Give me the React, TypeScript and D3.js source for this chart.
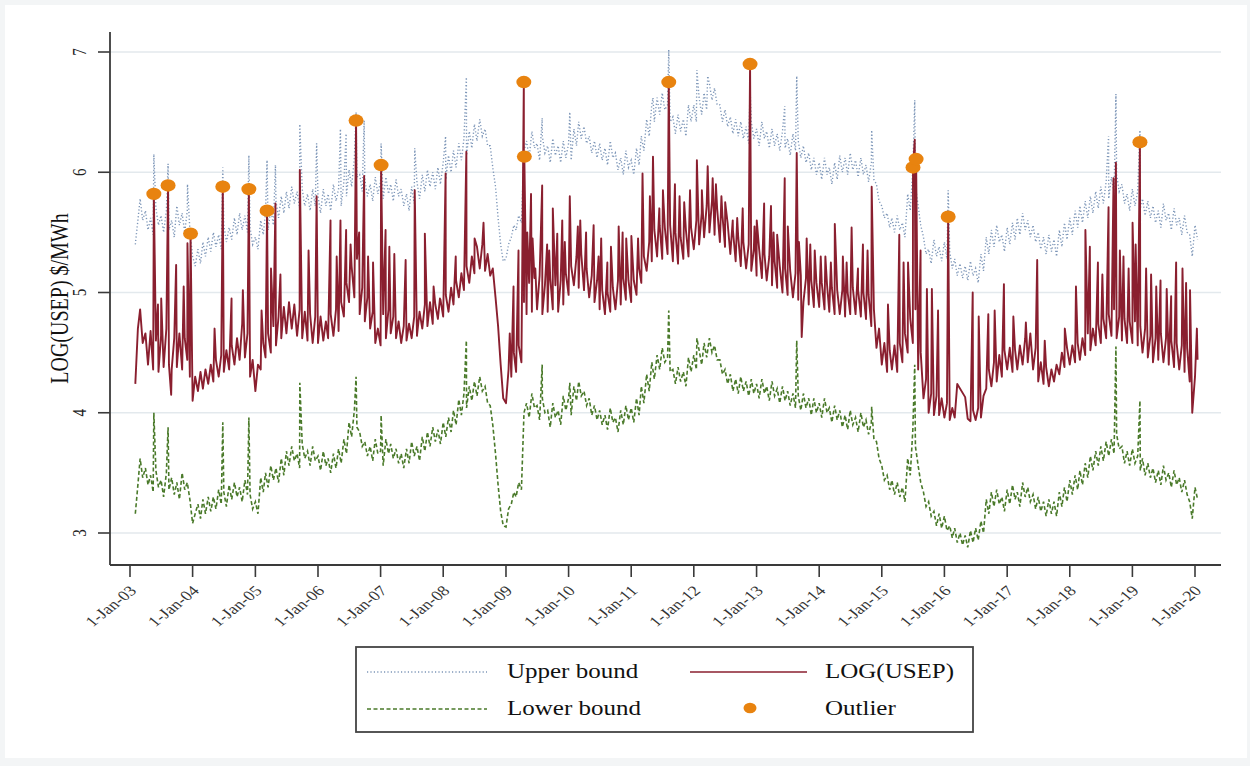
import React from 'react';
import * as d3 from 'd3';

// LOG(USEP), half-monthly (1st and 16th), Feb 2003 .. Jan 2020; null = gap in the data
const usepValues: (number | null)[] = [
  // 2003 (from Feb)
  4.24, 4.70, 4.86, 4.58, 4.66, 4.40, 4.68, 4.36, 4.60, 4.34, 4.64, 4.38, 4.70, 4.40, 4.36, 4.62, 4.38, 4.66, 4.36, 4.62, 4.44, 4.30,
  // 2004
  4.10, 4.30, 4.18, 4.34, 4.20, 4.36, 4.24, 4.40, 4.26, 4.44, 4.30, 4.48, 4.34, 4.52, 4.36, 4.56, 4.40, 4.62, 4.44, 4.74, 4.46, 4.66, 4.30, 4.44,
  // 2005
  4.18, 4.40, 4.36, 4.58, 4.46, 4.66, 4.50, 4.72, 4.56, 4.80, 4.62, 4.88, 4.66, 4.92, 4.70, 4.90, 4.64, 4.86, 4.62, 4.84, 4.60, 4.82, 4.58, 4.80,
  // 2006
  4.58, 4.80, 4.60, 4.76, 4.62, 4.82, 4.64, 4.86, 4.68, 4.92, 4.80, 5.08, 4.92, 5.22, 4.96, 5.28, 4.82, 5.04, 4.76, 4.96, 4.70, 4.84, 4.58, 4.70,
  // 2007
  4.56, 4.82, 4.62, 4.86, 4.66, 4.80, 4.62, 4.76, 4.58, 4.72, 4.60, 4.74, 4.62, 4.80, 4.64, 4.84, 4.70, 4.90, 4.72, 4.92, 4.74, 4.90, 4.78, 4.94,
  // 2008
  4.80, 4.98, 4.84, 5.04, 4.90, 5.10, 4.96, 5.16, 5.02, 5.22, 5.08, 5.30, 5.16, 5.38, 5.20, 5.40, 5.18, 5.32, 5.14, 5.20, 4.96, 4.72, 4.40, 4.12,
  // 2009
  4.08, 4.36, 4.30, 4.50, 4.34, 4.56, 4.42, 4.92, 4.82, 5.08, 4.84, 5.12, 4.86, 5.14, 4.82, 5.06, 4.84, 5.12, 4.86, 5.06, 4.84, 5.10, 4.90, 5.16,
  // 2010
  4.98, 5.22, 5.06, 5.30, 5.04, 5.32, 5.02, 5.20, 4.96, 5.14, 4.92, 5.10, 4.86, 5.02, 4.82, 5.00, 4.84, 5.04, 4.86, 5.10, 4.90, 5.12, 4.94, 5.10,
  // 2011
  4.92, 5.10, 4.98, 5.20, 5.08, 5.30, 5.18, 5.42, 5.26, 5.52, 5.30, 5.56, 5.28, 5.54, 5.32, 5.56, 5.26, 5.50, 5.24, 5.46, 5.28, 5.52, 5.30, 5.54,
  // 2012
  5.36, 5.60, 5.40, 5.66, 5.46, 5.72, 5.50, 5.76, 5.48, 5.70, 5.42, 5.64, 5.38, 5.58, 5.32, 5.52, 5.26, 5.46, 5.22, 5.42, 5.20, 5.40, 5.18, 5.36,
  // 2013
  5.14, 5.36, 5.12, 5.32, 5.10, 5.30, 5.06, 5.26, 5.04, 5.22, 5.00, 5.20, 4.98, 5.18, 4.96, 5.16, 4.94, 5.14, 4.92, 5.12, 4.90, 5.10, 4.88, 5.08,
  // 2014
  4.88, 5.08, 4.86, 5.06, 4.84, 5.04, 4.82, 5.02, 4.82, 5.02, 4.80, 5.00, 4.82, 5.04, 4.82, 5.02, 4.80, 5.00, 4.78, 4.98, 4.72, 4.86, 4.54, 4.70,
  // 2015
  4.40, 4.58, 4.34, 4.52, 4.36, 4.56, 4.34, 4.58, 4.42, 4.66, 4.50, 4.78, 4.58, 4.86, 4.36, 4.50, 4.12, 4.28, 4.00, 4.16, 3.98, 4.14, 3.98, 4.12,
  // 2016
  3.96, 4.08, 3.94, 4.04, 3.96, 4.24, null, null, 4.13, 3.95, 3.93, 4.02, 3.94, 4.04, 3.96, 4.14, 4.20, 4.36, 4.22, 4.42, 4.26, 4.48, 4.30, 4.52,
  // 2017
  4.36, 4.54, 4.34, 4.52, 4.36, 4.56, 4.40, 4.62, 4.42, 4.66, 4.36, 4.54, 4.26, 4.42, 4.24, 4.38, 4.22, 4.36, 4.26, 4.40, 4.32, 4.50, 4.38, 4.54,
  // 2018
  4.40, 4.56, 4.42, 4.58, 4.44, 4.62, 4.48, 4.66, 4.52, 4.70, 4.56, 4.74, 4.58, 4.78, 4.62, 4.82, 4.64, 4.86, 4.62, 4.80, 4.60, 4.78, 4.58, 4.76,
  // 2019
  4.58, 4.76, 4.56, 4.72, 4.50, 4.70, 4.46, 4.64, 4.42, 4.62, 4.44, 4.66, 4.42, 4.62, 4.40, 4.60, 4.38, 4.58, 4.36, 4.56, 4.34, 4.54, 4.26, 4.00,
  // 2020
  4.30, 4.44,
];

// single-day price spikes of LOG(USEP)
const usepSpikes: [string, number][] = [
  ['2003-06-13', 4.90], ['2003-07-02', 4.95], ['2003-08-29', 4.15], ['2003-09-27', 5.23], ['2003-11-10', 5.05], ['2003-12-02', 5.41],
  ['2004-05-08', 4.70], ['2004-08-15', 4.95], ['2004-10-20', 5.02],
  ['2005-02-06', 4.85], ['2005-04-02', 5.20], ['2005-04-28', 5.74], ['2005-05-27', 5.15], ['2005-09-17', 6.02], ['2005-11-07', 5.35], ['2005-12-24', 5.80],
  ['2006-03-15', 5.60], ['2006-04-20', 5.30], ['2006-05-12', 5.60], ['2006-06-14', 5.52], ['2006-07-10', 5.40], ['2006-08-29', 5.50], ['2006-09-27', 5.97], ['2006-10-20', 5.30], ['2006-11-18', 5.25],
  ['2007-01-30', 5.52], ['2007-02-21', 5.38], ['2007-03-22', 5.32], ['2007-05-27', 5.27], ['2007-07-19', 5.85], ['2007-09-16', 5.49], ['2007-11-06', 5.05], ['2007-12-13', 4.95],
  ['2008-01-15', 5.99], ['2008-03-14', 5.30], ['2008-05-15', 6.17], ['2008-07-02', 5.45], ['2008-08-23', 5.58],
  ['2009-01-23', 4.66], ['2009-02-14', 5.05], ['2009-03-15', 5.35], ['2009-05-05', 5.50], ['2009-05-27', 5.82], ['2009-06-05', 5.45], ['2009-06-21', 5.20], ['2009-07-31', 5.89], ['2009-08-29', 5.40], ['2009-09-10', 5.35], ['2009-10-01', 5.70], ['2009-10-27', 5.49], ['2009-11-25', 5.60], ['2009-12-10', 5.42],
  ['2010-01-08', 5.80], ['2010-02-24', 5.55], ['2010-03-10', 5.60], ['2010-04-13', 5.50], ['2010-05-27', 5.56], ['2010-06-25', 5.30], ['2010-07-10', 5.45], ['2010-08-15', 5.25], ['2010-09-05', 5.38], ['2010-10-20', 5.55], ['2010-11-12', 5.50], ['2010-12-03', 5.45],
  ['2011-01-02', 5.47], ['2011-02-10', 5.45], ['2011-03-08', 5.99], ['2011-04-20', 5.80], ['2011-05-08', 6.13], ['2011-06-14', 5.70], ['2011-07-05', 5.85], ['2011-09-13', 5.90], ['2011-10-10', 5.80], ['2011-11-06', 5.75], ['2011-12-10', 5.85],
  ['2012-01-19', 6.10], ['2012-02-17', 5.85], ['2012-03-22', 6.05], ['2012-04-20', 5.95], ['2012-05-09', 5.90], ['2012-06-10', 5.80], ['2012-07-02', 5.75], ['2012-08-15', 5.60], ['2012-09-10', 5.62], ['2012-10-12', 5.70], ['2012-12-20', 5.55],
  ['2013-01-02', 5.60], ['2013-02-14', 5.74], ['2013-03-26', 5.72], ['2013-04-10', 5.50], ['2013-05-01', 5.48], ['2013-06-14', 5.95], ['2013-07-02', 5.55], ['2013-08-23', 6.16], ['2013-09-05', 5.42], ['2013-09-21', 4.63], ['2013-10-20', 5.45], ['2013-11-10', 5.40], ['2013-12-06', 5.35],
  ['2014-01-10', 5.30], ['2014-02-06', 5.30], ['2014-03-10', 5.25], ['2014-04-02', 5.57], ['2014-05-19', 5.30], ['2014-06-10', 5.25], ['2014-07-09', 5.54], ['2014-08-15', 5.20], ['2014-09-13', 5.40], ['2014-10-10', 5.35], ['2014-11-03', 5.88],
  ['2015-02-06', 4.90], ['2015-04-13', 5.48], ['2015-05-08', 5.25], ['2015-06-03', 5.25], ['2015-07-12', 6.27], ['2015-08-15', 5.35], ['2015-09-21', 5.03], ['2015-10-20', 5.03], ['2015-11-25', 4.85],
  ['2016-06-14', 5.00], ['2016-07-19', 4.80], ['2016-09-13', 4.82], ['2016-10-20', 4.85], ['2016-12-13', 5.07],
  ['2017-02-06', 4.80], ['2017-04-20', 4.75], ['2017-06-25', 5.27], ['2017-08-08', 4.60], ['2017-12-03', 4.70],
  ['2018-02-06', 5.05], ['2018-04-02', 5.52], ['2018-04-28', 5.38], ['2018-06-14', 5.25], ['2018-07-10', 5.15], ['2018-08-15', 5.71], ['2018-09-13', 5.95], ['2018-09-27', 6.08], ['2018-10-20', 5.35], ['2018-11-10', 5.30], ['2018-12-10', 5.20],
  ['2019-01-02', 5.58], ['2019-01-20', 5.40], ['2019-03-22', 5.20], ['2019-04-20', 5.15], ['2019-05-20', 5.05], ['2019-06-14', 5.10], ['2019-07-20', 5.03], ['2019-08-15', 4.97], ['2019-09-13', 5.25], ['2019-10-20', 5.20], ['2019-11-10', 5.08], ['2019-12-03', 5.02], ['2020-01-12', 4.70],
];

// flagged outliers (also part of the LOG(USEP) line)
const outliers: [string, number][] = [
  ['2003-05-20', 5.82], ['2003-08-11', 5.89], ['2003-12-20', 5.49], ['2004-06-25', 5.88], ['2004-11-24', 5.86],
  ['2005-03-10', 5.68], ['2006-08-11', 6.43], ['2007-01-04', 6.06], ['2009-04-15', 6.75], ['2009-04-18', 6.13],
  ['2011-08-08', 6.75], ['2012-11-24', 6.90], ['2015-07-02', 6.04], ['2015-07-20', 6.11], ['2016-01-23', 5.63],
  ['2019-02-14', 6.25],
];

// upper bound, half-monthly, Feb 2003 .. Jan 2020
const upperValues = [
  5.40, 5.60, 5.78, 5.60, 5.68, 5.52, 5.62, 5.48, 5.70, 5.56, 5.64, 5.50, 5.68, 5.52, 5.60, 5.46, 5.72, 5.56, 5.66, 5.50, 5.68, 5.52,
  5.30, 5.22, 5.36, 5.24, 5.42, 5.30, 5.46, 5.34, 5.50, 5.38, 5.48, 5.36, 5.56, 5.42, 5.54, 5.44, 5.62, 5.48, 5.66, 5.52, 5.64, 5.50, 5.54, 5.40,
  5.46, 5.36, 5.60, 5.48, 5.66, 5.52, 5.70, 5.56, 5.76, 5.62, 5.80, 5.66, 5.84, 5.70, 5.88, 5.74, 5.84, 5.70, 5.86, 5.72, 5.82, 5.68, 5.86, 5.72,
  5.80, 5.66, 5.86, 5.72, 5.82, 5.68, 5.90, 5.76, 5.86, 5.72, 5.92, 5.80, 6.02, 5.88, 6.12, 5.96, 5.98, 5.84, 5.94, 5.80, 5.90, 5.76, 5.96, 5.82,
  5.92, 5.78, 5.96, 5.82, 5.90, 5.76, 5.94, 5.80, 5.86, 5.72, 5.82, 5.68, 5.88, 5.74, 5.92, 5.78, 5.98, 5.84, 6.02, 5.88, 6.00, 5.86, 6.04, 5.90,
  6.08, 5.94, 6.14, 6.00, 6.18, 6.04, 6.24, 6.10, 6.28, 6.14, 6.34, 6.20, 6.40, 6.26, 6.44, 6.30, 6.36, 6.22, 6.22, 6.04, 5.88, 5.62, 5.40, 5.26,
  5.28, 5.40, 5.46, 5.56, 5.52, 5.64, 5.58, 6.18, 6.26, 6.12, 6.34, 6.20, 6.24, 6.10, 6.30, 6.16, 6.22, 6.08, 6.28, 6.14, 6.22, 6.08, 6.26, 6.12,
  6.24, 6.10, 6.36, 6.22, 6.42, 6.28, 6.38, 6.24, 6.30, 6.16, 6.26, 6.12, 6.24, 6.10, 6.20, 6.06, 6.26, 6.12, 6.16, 6.02, 6.12, 5.98, 6.18, 6.04,
  6.10, 5.98, 6.20, 6.06, 6.30, 6.18, 6.44, 6.30, 6.56, 6.42, 6.62, 6.48, 6.66, 6.52, 6.56, 6.42, 6.46, 6.32, 6.48, 6.34, 6.44, 6.30, 6.56, 6.42,
  6.56, 6.42, 6.62, 6.48, 6.66, 6.52, 6.74, 6.60, 6.70, 6.56, 6.56, 6.42, 6.52, 6.38, 6.46, 6.32, 6.44, 6.30, 6.42, 6.28, 6.38, 6.24, 6.42, 6.28,
  6.36, 6.22, 6.42, 6.28, 6.34, 6.20, 6.36, 6.22, 6.32, 6.18, 6.34, 6.20, 6.28, 6.14, 6.32, 6.18, 6.26, 6.12, 6.22, 6.08, 6.16, 6.02, 6.12, 5.98,
  6.08, 5.94, 6.12, 5.98, 6.04, 5.90, 6.08, 5.94, 6.14, 6.00, 6.12, 5.98, 6.16, 6.02, 6.10, 5.96, 6.12, 5.98, 6.06, 5.92, 6.08, 5.94, 5.90, 5.76,
  5.72, 5.62, 5.66, 5.54, 5.62, 5.50, 5.64, 5.52, 5.58, 5.46, 5.82, 5.68, 6.02, 5.88, 5.72, 5.56, 5.46, 5.32, 5.36, 5.24, 5.44, 5.30, 5.38, 5.26,
  5.42, 5.28, 5.34, 5.20, 5.28, 5.14, 5.24, 5.12, 5.22, 5.10, 5.26, 5.14, 5.20, 5.08, 5.32, 5.18, 5.46, 5.32, 5.52, 5.38, 5.56, 5.42, 5.48, 5.34,
  5.54, 5.40, 5.58, 5.44, 5.62, 5.48, 5.66, 5.52, 5.60, 5.46, 5.56, 5.42, 5.50, 5.36, 5.46, 5.32, 5.48, 5.34, 5.44, 5.30, 5.52, 5.38, 5.58, 5.44,
  5.62, 5.48, 5.68, 5.54, 5.72, 5.58, 5.76, 5.62, 5.80, 5.66, 5.84, 5.70, 5.88, 5.74, 5.92, 5.78, 5.96, 5.82, 5.98, 5.84, 5.90, 5.74, 5.82, 5.68,
  5.86, 5.72, 5.84, 5.70, 5.78, 5.64, 5.76, 5.62, 5.72, 5.58, 5.68, 5.54, 5.74, 5.60, 5.66, 5.52, 5.70, 5.56, 5.62, 5.48, 5.64, 5.50, 5.48, 5.30,
  5.56, 5.44,
];

const upperSpikes: [string, number][] = [
  ['2003-05-20', 6.15], ['2003-08-11', 6.07], ['2003-12-02', 5.90], ['2004-06-25', 6.04], ['2004-11-24', 6.14],
  ['2005-03-10', 6.10], ['2005-04-28', 6.06], ['2005-09-17', 6.40], ['2005-12-24', 6.24], ['2006-05-12', 6.36],
  ['2006-06-14', 6.32], ['2006-08-11', 6.50], ['2006-09-27', 6.43], ['2007-01-04', 6.24], ['2007-07-19', 6.20],
  ['2008-01-15', 6.30], ['2008-05-15', 6.79], ['2009-07-31', 6.45], ['2010-01-08', 6.50], ['2011-05-08', 6.62],
  ['2011-08-08', 7.02], ['2012-01-19', 6.85], ['2012-03-22', 6.80], ['2012-11-24', 6.70], ['2013-06-14', 6.55],
  ['2013-08-23', 6.80], ['2014-11-03', 6.35], ['2015-07-12', 6.60], ['2016-01-23', 5.85], ['2018-08-15', 6.30],
  ['2018-09-27', 6.65], ['2019-02-14', 6.35],
];

// lower bound, half-monthly, Feb 2003 .. Jan 2020
const lowerValues = [
  3.16, 3.40, 3.62, 3.46, 3.54, 3.40, 3.48, 3.34, 3.52, 3.38, 3.44, 3.30, 3.50, 3.36, 3.46, 3.32, 3.42, 3.28, 3.50, 3.36, 3.42, 3.28,
  3.08, 3.16, 3.24, 3.12, 3.28, 3.16, 3.30, 3.18, 3.30, 3.20, 3.36, 3.24, 3.34, 3.22, 3.40, 3.28, 3.42, 3.30, 3.38, 3.26, 3.44, 3.32, 3.32, 3.20,
  3.26, 3.16, 3.46, 3.34, 3.50, 3.38, 3.56, 3.44, 3.54, 3.42, 3.62, 3.48, 3.68, 3.56, 3.72, 3.60, 3.66, 3.54, 3.74, 3.62, 3.68, 3.56, 3.72, 3.60,
  3.64, 3.52, 3.68, 3.56, 3.62, 3.50, 3.66, 3.54, 3.70, 3.58, 3.78, 3.66, 3.92, 3.80, 4.02, 3.88, 3.84, 3.72, 3.76, 3.64, 3.72, 3.60, 3.78, 3.66,
  3.68, 3.56, 3.78, 3.66, 3.74, 3.62, 3.70, 3.58, 3.66, 3.54, 3.70, 3.58, 3.76, 3.64, 3.72, 3.60, 3.80, 3.68, 3.84, 3.72, 3.88, 3.76, 3.86, 3.74,
  3.92, 3.80, 3.96, 3.84, 4.02, 3.90, 4.11, 3.98, 4.16, 4.04, 4.22, 4.10, 4.26, 4.14, 4.30, 4.18, 4.22, 4.08, 4.06, 3.90, 3.66, 3.40, 3.18, 3.06,
  3.05, 3.20, 3.24, 3.34, 3.30, 3.42, 3.36, 4.00, 4.08, 3.96, 4.16, 4.04, 4.06, 3.94, 4.12, 4.00, 4.02, 3.88, 4.08, 3.96, 4.02, 3.90, 4.14, 4.02,
  4.12, 3.98, 4.22, 4.10, 4.26, 4.14, 4.18, 4.06, 4.12, 3.98, 4.06, 3.94, 4.02, 3.90, 3.98, 3.86, 4.04, 3.92, 3.96, 3.84, 4.02, 3.90, 4.06, 3.94,
  4.04, 3.92, 4.12, 3.98, 4.22, 4.08, 4.32, 4.18, 4.42, 4.28, 4.48, 4.36, 4.54, 4.42, 4.46, 4.34, 4.36, 4.24, 4.38, 4.26, 4.34, 4.22, 4.46, 4.34,
  4.48, 4.36, 4.52, 4.40, 4.58, 4.46, 4.62, 4.50, 4.56, 4.44, 4.44, 4.32, 4.36, 4.24, 4.32, 4.18, 4.28, 4.16, 4.30, 4.18, 4.26, 4.14, 4.28, 4.16,
  4.24, 4.12, 4.28, 4.16, 4.22, 4.10, 4.26, 4.14, 4.20, 4.08, 4.22, 4.10, 4.18, 4.06, 4.16, 4.04, 4.14, 4.02, 4.16, 4.04, 4.12, 3.98, 4.12, 4.00,
  4.08, 3.96, 4.12, 4.00, 4.04, 3.92, 4.06, 3.94, 4.02, 3.88, 3.98, 3.86, 4.02, 3.90, 3.96, 3.84, 4.00, 3.88, 3.94, 3.82, 3.92, 3.78, 3.76, 3.62,
  3.56, 3.44, 3.48, 3.36, 3.44, 3.32, 3.42, 3.30, 3.38, 3.26, 3.62, 3.48, 3.86, 3.72, 3.56, 3.42, 3.34, 3.22, 3.26, 3.14, 3.18, 3.06, 3.16, 3.04,
  3.14, 3.02, 3.06, 2.96, 3.04, 2.92, 3.00, 2.90, 2.98, 2.88, 3.02, 2.92, 3.04, 2.94, 3.10, 3.00, 3.28, 3.16, 3.34, 3.22, 3.36, 3.24, 3.30, 3.18,
  3.36, 3.24, 3.40, 3.28, 3.34, 3.22, 3.42, 3.30, 3.38, 3.26, 3.32, 3.20, 3.30, 3.18, 3.26, 3.14, 3.28, 3.16, 3.26, 3.14, 3.34, 3.22, 3.38, 3.26,
  3.44, 3.32, 3.48, 3.36, 3.52, 3.40, 3.58, 3.46, 3.64, 3.52, 3.68, 3.56, 3.72, 3.60, 3.76, 3.64, 3.78, 3.66, 3.82, 3.70, 3.72, 3.58, 3.68, 3.56,
  3.70, 3.58, 3.64, 3.52, 3.62, 3.48, 3.58, 3.46, 3.54, 3.42, 3.52, 3.40, 3.56, 3.44, 3.50, 3.38, 3.52, 3.40, 3.46, 3.34, 3.44, 3.32, 3.26, 3.12,
  3.38, 3.28,
];

const lowerSpikes: [string, number][] = [
  ['2003-05-20', 4.00], ['2003-08-11', 3.88], ['2004-06-25', 3.92], ['2004-11-24', 3.96], ['2005-09-17', 4.25],
  ['2006-08-11', 4.30], ['2007-01-04', 3.98], ['2008-05-15', 4.60], ['2009-07-31', 4.40], ['2010-01-08', 4.25],
  ['2011-08-08', 4.85], ['2012-01-19', 4.62], ['2012-11-24', 4.20], ['2013-08-23', 4.60], ['2014-11-03', 4.05],
  ['2015-07-12', 4.40], ['2018-09-27', 4.55], ['2019-02-14', 4.10],
];

const xTickYears = [2003, 2004, 2005, 2006, 2007, 2008, 2009, 2010, 2011, 2012, 2013, 2014, 2015, 2016, 2017, 2018, 2019, 2020];
const yTicks = [3, 4, 5, 6, 7];

const W = 1250;
const H = 766;
const FONT = '"Liberation Serif", "Times New Roman", serif';
const SX = 1.25; // the original picture is stretched horizontally

type Pt = { d: Date; v: number };
const parse = d3.timeParse('%Y-%m-%d');

// half-month grid: 1st and 16th of each month from Feb 2003
const halfMonth = (i: number) => new Date(2003, 1 + Math.floor(i / 2), i % 2 ? 16 : 1);

function build(vals: (number | null)[], extra: [string, number][]): Pt[] {
  const pts: Pt[] = [];
  vals.forEach((v, i) => {
    if (v != null) pts.push({ d: halfMonth(i), v });
  });
  extra.forEach(([s, v]) => pts.push({ d: parse(s)!, v }));
  return pts.sort((a, b) => +a.d - +b.d);
}

const usepPts = build(usepValues, [...usepSpikes, ...outliers]);
const upperPts = build(upperValues, upperSpikes);
const lowerPts = build(lowerValues, lowerSpikes);

export default function App() {
  const left = 110;
  const right = 1221;
  const top = 32;
  const bottom = 565;

  const x = d3.scaleTime()
    .domain([new Date(2003, 0, 1), new Date(2020, 0, 1)])
    .range([130, 1195]);
  const y = d3.scaleLinear().domain([3, 7]).range([533, 52]);

  const line = d3.line<Pt>().x(p => x(p.d)).y(p => y(p.v));

  const axisColor = '#3a3a3a';
  const red = '#8a1f2f';
  const blue = '#7d96b8';
  const green = '#4a7a2a';
  const orange = '#e8830f';

  return (
    <svg width={W} height={H} style={{ position: 'absolute', left: 0, top: 0, background: '#f3f5f6' }}
      fontFamily={FONT}>
      <rect x={5} y={5} width={W - 8} height={H - 13} fill="#fff" />

      {/* gridlines */}
      {yTicks.map(t => (
        <line key={t} x1={left} x2={right} y1={y(t)} y2={y(t)} stroke="#e3e9ed" strokeWidth={1.5} />
      ))}

      {/* bounds and series */}
      <path d={line(upperPts) ?? ''} fill="none" stroke={blue} strokeWidth={1.4} strokeDasharray="1.2 2.2" />
      <path d={line(lowerPts) ?? ''} fill="none" stroke={green} strokeWidth={1.6} strokeDasharray="4 2.5" />
      <path d={line(usepPts) ?? ''} fill="none" stroke={red} strokeWidth={1.9} strokeLinejoin="round" />

      {outliers.map(([s, v], i) => (
        <ellipse key={i} cx={x(parse(s)!)} cy={y(v)} rx={7.5} ry={6.2} fill={orange} />
      ))}

      {/* y axis */}
      <line x1={left} x2={left} y1={top} y2={bottom} stroke={axisColor} strokeWidth={1.8} />
      {yTicks.map(t => (
        <g key={t}>
          <line x1={left - 12} x2={left} y1={y(t)} y2={y(t)} stroke={axisColor} strokeWidth={1.6} />
          <text transform={`translate(${left - 24},${y(t)}) scale(${SX},1) rotate(-90)`}
            textAnchor="middle" fontSize={15} fill="#222">{t}</text>
        </g>
      ))}
      <text transform={`translate(68,${(top + bottom) / 2}) scale(${SX},1) rotate(-90)`}
        textAnchor="middle" fontSize={20} fill="#111">LOG(USEP) $/MWh</text>

      {/* x axis */}
      <line x1={left} x2={right} y1={bottom} y2={bottom} stroke={axisColor} strokeWidth={1.8} />
      {xTickYears.map(yr => {
        const tx = x(new Date(yr, 0, 1));
        const lab = `1-Jan-${String(yr).slice(2)}`;
        return (
          <g key={yr}>
            <line x1={tx} x2={tx} y1={bottom} y2={bottom + 12} stroke={axisColor} strokeWidth={1.6} />
            <text transform={`translate(${tx + 3},${bottom + 23}) scale(${SX},1) rotate(-45)`}
              textAnchor="end" dy="0.35em" fontSize={14.5} fill="#333">{lab}</text>
          </g>
        );
      })}

      {/* legend */}
      <rect x={356} y={647} width={617} height={85} fill="#fff" stroke="#444" strokeWidth={1.8} />
      <line x1={367} x2={487} y1={672} y2={672} stroke={blue} strokeWidth={1.3} strokeDasharray="1.2 2.2" />
      <text transform={`translate(507,678) scale(${SX},1)`} fontSize={20} fill="#111">Upper bound</text>
      <line x1={690} x2={807} y1={672} y2={672} stroke={red} strokeWidth={1.3} />
      <text transform={`translate(825,678) scale(${SX},1)`} fontSize={20} fill="#111">LOG(USEP)</text>
      <line x1={367} x2={487} y1={709} y2={709} stroke={green} strokeWidth={1.4} strokeDasharray="4 2.5" />
      <text transform={`translate(507,715) scale(${SX},1)`} fontSize={20} fill="#111">Lower bound</text>
      <ellipse cx={750} cy={708} rx={6.5} ry={5.2} fill={orange} />
      <text transform={`translate(825,715) scale(${SX},1)`} fontSize={20} fill="#111">Outlier</text>
    </svg>
  );
}
